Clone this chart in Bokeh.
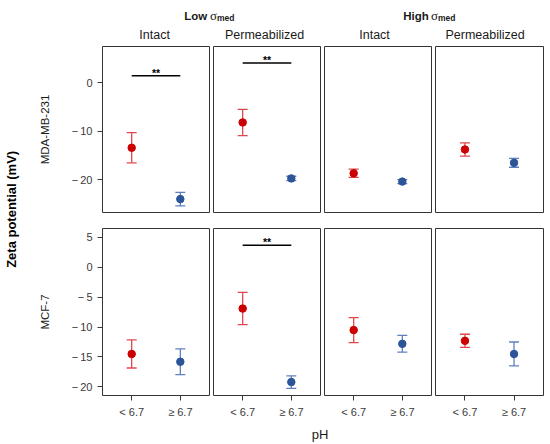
import math
from bokeh.plotting import figure
from bokeh.models import (ColumnDataSource, Range1d, FixedTicker, Whisker, TeeHead, GridBox)
from bokeh.embed import file_html
from bokeh.resources import INLINE
from bokeh.core.properties import value

# ---------------- data ----------------
ph_levels = ["< 6.7", "≥ 6.7"]
cell_lines = ["MDA-MB-231", "MCF-7"]
media = ["Low", "High"]
treatments = ["Intact", "Permeabilized"]

# panel order: Low/Intact, Low/Permeabilized, High/Intact, High/Permeabilized
mda_acid_mean = [-13.4, -8.2, -18.65, -13.75]
mda_acid_err = [3.1, 2.7, 0.85, 1.35]
mda_basic_mean = [-23.95, -19.7, -20.35, -16.5]
mda_basic_err = [1.4, 0.45, 0.4, 0.9]

mcf_acid_mean = [-14.5, -6.9, -10.5, -12.3]
mcf_acid_err = [2.35, 2.7, 2.1, 1.1]
mcf_basic_mean = [-15.8, -19.2, -12.8, -14.5]
mcf_basic_err = [2.15, 1.05, 1.4, 2.0]

mda_sig = [1.4, 4.0, None, None]
mcf_sig = [None, 3.7, None, None]

mda_yticks = [0, -10, -20]
mcf_yticks = [5, 0, -5, -10, -15, -20]

# ---------------- style / layout ----------------
FONT = "Liberation Sans"
ACID_PT, ACID_BAR = "#CC0000", "#E0474C"
BASIC_PT, BASIC_BAR = "#2C5599", "#5F80BF"
TEXT_COL = "#1a1a1a"
TICK_COL = "#3a3a3a"

LEFT_W = 26
C1_LEFT = 76
FRAME_W = [107, 107, 107, 108]
ROW_H = [175, 200]
TOTAL_W = 548
HDR_H = 45
FTR_H = 22

rows_data = [
    dict(acid=mda_acid_mean, acid_err=mda_acid_err, basic=mda_basic_mean,
         basic_err=mda_basic_err, sig=mda_sig, ticks=mda_yticks, yr=(-26.7, 7.4)),
    dict(acid=mcf_acid_mean, acid_err=mcf_acid_err, basic=mcf_basic_mean,
         basic_err=mcf_basic_err, sig=mcf_sig, ticks=mcf_yticks, yr=(-21.45, 6.5)),
]

xs = [i + 1 for i in range(len(ph_levels))]


def tick_label(t):
    return ("\u2212\u2009" + str(abs(t))) if t < 0 else str(t)


def col_geom(c):
    # returns width, left border, right border
    if c == 0:
        bl, br = C1_LEFT, 2
    elif c == 3:
        bl, br = 2, 5
    else:
        bl, br = 2, 2
    return bl + FRAME_W[c] + br, bl, br


def make_panel(r, c):
    d = rows_data[r]
    w, bl, br = col_geom(c)
    bt, bb = (1, 8) if r == 0 else (8, 25)
    p = figure(width=w, height=ROW_H[r],
               x_range=Range1d(0.4, 2.6), y_range=Range1d(*d["yr"]),
               output_backend="svg", toolbar_location=None,
               x_axis_location="below" if r == 1 else None,
               y_axis_location="left" if c == 0 else None,
               min_border_left=bl, min_border_right=br,
               min_border_top=bt, min_border_bottom=bb)
    p.grid.visible = False
    p.outline_line_color = "#333333"
    p.outline_line_width = 1
    p.background_fill_color = "white"
    p.border_fill_color = "white"

    if c == 0:
        ax = p.yaxis[0]
        ax.ticker = FixedTicker(ticks=d["ticks"])
        ax.major_label_overrides = {t: tick_label(t) for t in d["ticks"]}
        ax.axis_line_color = None
        ax.major_tick_line_color = TICK_COL
        ax.major_tick_in = 0
        ax.major_tick_out = 5
        ax.minor_tick_line_color = None
        ax.major_label_text_font = FONT
        ax.major_label_text_font_size = "11px"
        ax.major_label_text_color = TICK_COL
        ax.major_label_standoff = 5
        ax.axis_label = cell_lines[r]
        ax.axis_label_text_font = FONT
        ax.axis_label_text_font_style = "normal"
        ax.axis_label_text_font_size = "11.5px"
        ax.axis_label_text_color = TEXT_COL
        ax.axis_label_standoff = 18
    if r == 1:
        ax = p.xaxis[0]
        ax.ticker = FixedTicker(ticks=xs)
        ax.major_label_overrides = {x: lab for x, lab in zip(xs, ph_levels)}
        ax.axis_line_color = None
        ax.major_tick_line_color = TICK_COL
        ax.major_tick_in = 0
        ax.major_tick_out = 5
        ax.minor_tick_line_color = None
        ax.major_label_text_font = FONT
        ax.major_label_text_font_size = "11px"
        ax.major_label_text_color = TICK_COL
        ax.major_label_standoff = 5

    series = [
        (d["acid"][c], d["acid_err"][c], xs[0], ACID_PT, ACID_BAR),
        (d["basic"][c], d["basic_err"][c], xs[1], BASIC_PT, BASIC_BAR),
    ]
    for m, e, x, pc, bc in series:
        src = ColumnDataSource(dict(x=[x], y=[m], upper=[m + e], lower=[m - e]))
        wk = Whisker(base="x", upper="upper", lower="lower", source=src,
                     line_color=bc, line_width=1.3, level="underlay",
                     upper_head=TeeHead(size=10, line_color=bc, line_width=1.3),
                     lower_head=TeeHead(size=10, line_color=bc, line_width=1.3))
        p.add_layout(wk)
        p.scatter("x", "y", source=src, size=7.5, fill_color=pc, line_color=pc)

    s = d["sig"][c]
    if s is not None:
        p.segment(x0=[xs[0]], y0=[s], x1=[xs[1]], y1=[s], line_color="black", line_width=1.5)
        p.text(x=[sum(xs) / len(xs)], y=[s], text=["**"], text_align="center",
               text_baseline="alphabetic", y_offset=-3,
               text_font=value(FONT), text_font_style="bold",
               text_font_size=value("10.5px"), text_color="black")
    return p


panels = [[make_panel(r, c) for c in range(4)] for r in range(2)]

# frame left edges in page coordinates
frame_lefts = []
xcur = LEFT_W
for c in range(4):
    w, bl, br = col_geom(c)
    frame_lefts.append(xcur + bl)
    xcur += w
frame_centers = [fl + fw / 2 for fl, fw in zip(frame_lefts, FRAME_W)]


def blank(w, h):
    f = figure(width=w, height=h, x_range=Range1d(0, w), y_range=Range1d(h, 0),
               output_backend="svg", toolbar_location=None,
               x_axis_location=None, y_axis_location=None,
               min_border=0, min_border_left=0, min_border_right=0,
               min_border_top=0, min_border_bottom=0)
    f.grid.visible = False
    f.outline_line_color = None
    return f


# header
hdr = blank(TOTAL_W, HDR_H)
for g in range(2):
    gc = (frame_lefts[2 * g] + FRAME_W[2 * g] + frame_lefts[2 * g + 1]) / 2
    lw = 23 if media[g] == "Low" else 25
    x0 = gc - (lw + 3 + 8 + 17) / 2
    hdr.text(x=[x0], y=[15], text=[media[g]], text_align="left", text_baseline="alphabetic",
             text_font=value(FONT), text_font_style="bold", text_font_size=value("11.5px"),
             text_color=TEXT_COL)
    hdr.text(x=[x0 + lw + 3], y=[15], text=["σ"], text_align="left", text_baseline="alphabetic",
             text_font=value("Liberation Serif"), text_font_size=value("13px"),
             text_color=TEXT_COL)
    hdr.text(x=[x0 + lw + 10], y=[17], text=["med"], text_align="left", text_baseline="alphabetic",
             text_font=value(FONT), text_font_style="bold", text_font_size=value("8.5px"),
             text_color=TEXT_COL)
for c in range(4):
    hdr.text(x=[frame_centers[c]], y=[34], text=[treatments[c % 2]], text_align="center",
             text_baseline="alphabetic", text_font=value(FONT), text_font_size=value("12.5px"),
             text_color=TEXT_COL)

# left label
left = blank(LEFT_W, sum(ROW_H))
left.text(x=[10.5], y=[175], text=["Zeta potential (mV)"], angle=math.pi / 2,
          text_align="center", text_baseline="middle", text_font=value(FONT),
          text_font_style="bold", text_font_size=value("13px"), text_color="black")

# footer
ftr = blank(TOTAL_W, FTR_H)
pc = (frame_lefts[0] + frame_lefts[3] + FRAME_W[3]) / 2
ftr.text(x=[pc], y=[14], text=["pH"], text_align="center", text_baseline="alphabetic",
         text_font=value(FONT), text_font_size=value("13px"), text_color=TEXT_COL)

children = [(hdr, 0, 0, 1, 5), (left, 1, 0, 2, 1)]
for r in range(2):
    for c in range(4):
        children.append((panels[r][c], r + 1, c + 1))
children.append((ftr, 3, 0, 1, 5))
grid = GridBox(children=children, spacing=0)

open("out.html", "w").write(file_html(grid, INLINE))
